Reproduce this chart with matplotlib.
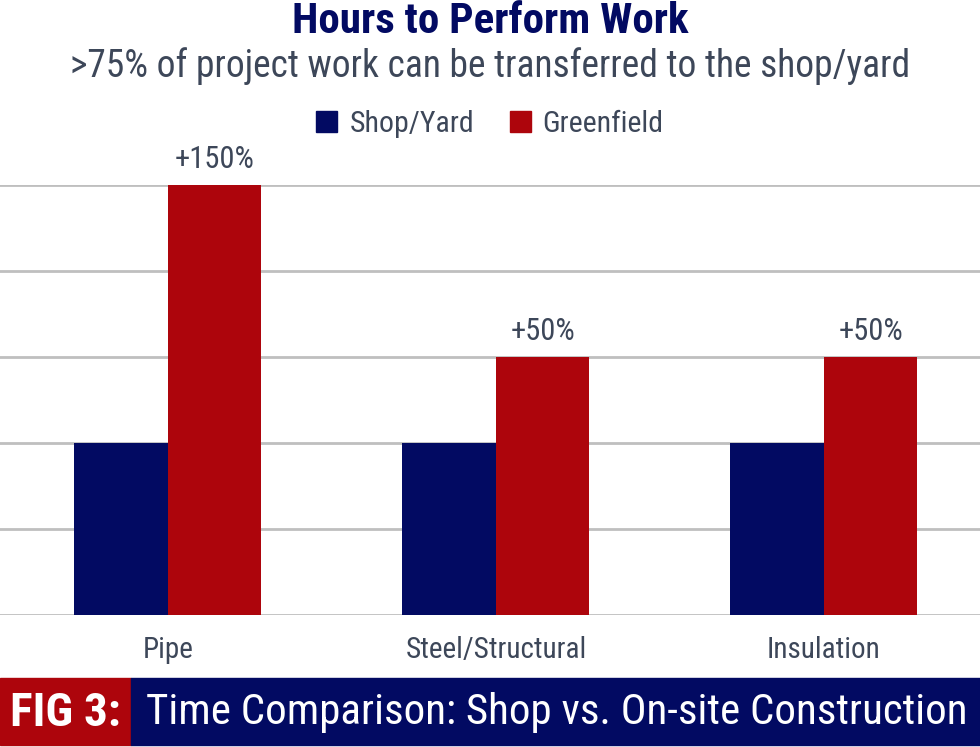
import matplotlib
matplotlib.use('Agg')
import matplotlib.pyplot as plt
from matplotlib.patches import Rectangle, Patch
import numpy as np

# data
categories = ['Pipe', 'Steel/Structural', 'Insulation']
shop_yard = [2, 2, 2]
greenfield = [5, 3, 3]
increase_labels = ['+150%', '+50%', '+50%']

navy = '#020A62'
red = '#AD050C'
txt = '#3D4759'
grid = '#BFBFBF'

plt.rcParams['font.family'] = ['Roboto Condensed', 'DejaVu Sans']

fig = plt.figure(figsize=(9.8, 7.47), dpi=100)
ax = fig.add_axes([0.0, 0.1767, 1.0, 0.5756])

x = np.arange(len(categories))
w = 0.285
ax.bar(x - w / 2, shop_yard, w, color=navy, label='Shop/Yard', zorder=3)
ax.bar(x + w / 2, greenfield, w, color=red, label='Greenfield', zorder=3)

for xi, v, lab in zip(x, greenfield, increase_labels):
    ax.annotate(lab, (xi + w / 2, v), xytext=(0, 8), textcoords='offset points',
                ha='center', va='bottom', fontsize=22, color=txt)

ax.set_xlim(-0.512, 2.476)
ax.set_ylim(0, 5)
ax.set_yticks([0, 1, 2, 3, 4, 5])
ax.yaxis.grid(True, color=grid, linewidth=2, zorder=0)
ax.tick_params(axis='y', left=False, labelleft=False)
ax.set_xticks(x)
ax.set_xticklabels(categories, fontsize=21, color=txt)
ax.tick_params(axis='x', length=0, pad=15)
for s in ax.spines.values():
    s.set_visible(False)

fig.text(0.5, 0.971, 'Hours to Perform Work', ha='center', va='center',
         fontsize=31, fontweight='bold', color=navy)
fig.text(0.5, 0.911, '>75% of project work can be transferred to the shop/yard',
         ha='center', va='center', fontsize=27, color=txt)

handles = [Patch(color=navy), Patch(color=red)]
fig.legend(handles, ['Shop/Yard', 'Greenfield'], loc='center', bbox_to_anchor=(0.5, 0.834),
           ncol=2, frameon=False, fontsize=21.5, labelcolor=txt,
           handlelength=0.7, handleheight=0.7, handletextpad=0.4, columnspacing=1.2)

# bottom banner
fig.patches.append(Rectangle((0, 0.003), 131 / 980, 0.0897, transform=fig.transFigure,
                             color=red, zorder=0))
fig.patches.append(Rectangle((131 / 980, 0.003), 1 - 131 / 980, 0.0897,
                             transform=fig.transFigure, color=navy, zorder=0))
fig.text(65 / 980, 0.046, 'FIG 3:', ha='center', va='center', fontsize=34,
         fontweight='bold', color='white')
fig.text(557 / 980, 0.046, 'Time Comparison: Shop vs. On-site Construction',
         ha='center', va='center', fontsize=31, color='white')

fig.savefig('out.png', dpi=100)
